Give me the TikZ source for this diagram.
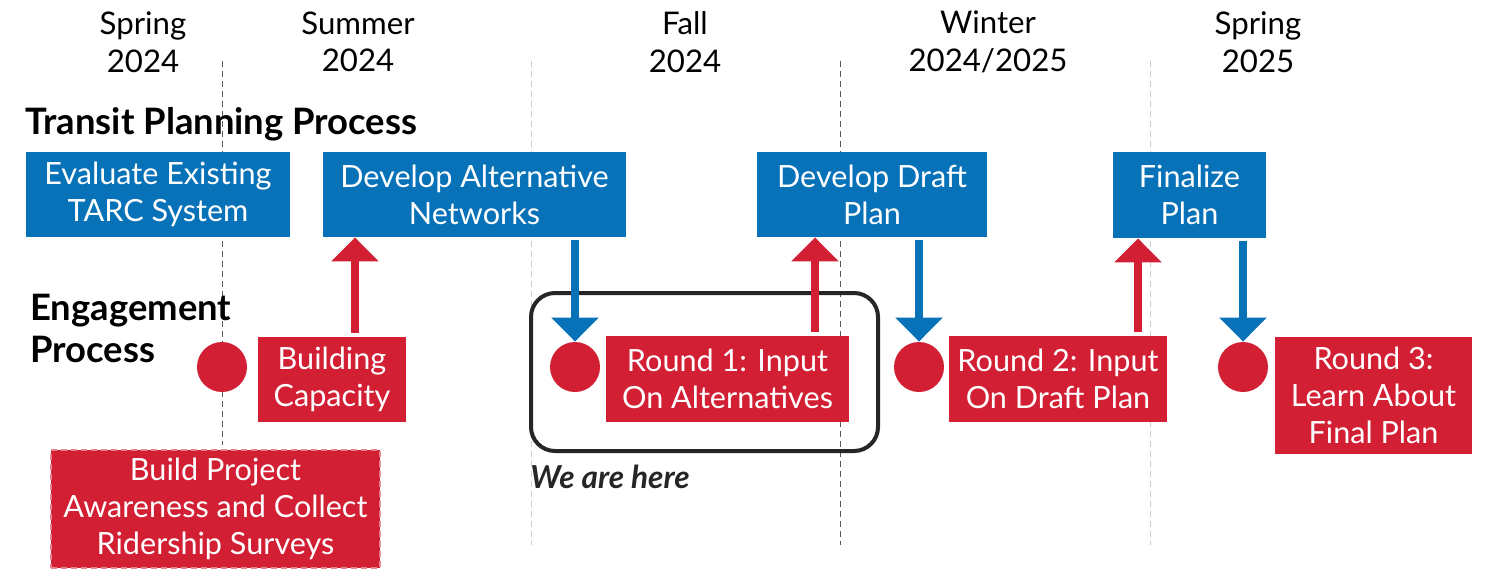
\documentclass[tikz,border=0pt]{standalone}
\usepackage{fontspec}
\setmainfont{Lato}
\usetikzlibrary{arrows.meta}
\definecolor{tarcblue}{RGB}{8,114,185}
\definecolor{tarcred}{RGB}{210,31,52}
\tikzset{
  season/.style={align=center, inner sep=0pt, font=\fontsize{15.6}{18.8}\selectfont},
  heading/.style={align=left, inner sep=0pt, font=\fontsize{18.2}{21}\selectfont\bfseries},
  stage/.style={fill=tarcblue, text=white, align=center, inner sep=0pt,
    font=\fontsize{15.3}{18.5}\selectfont},
  engage/.style={stage, fill=tarcred},
  dot/.style={circle, fill=tarcred, minimum size=25pt, inner sep=0pt},
  feedback/.style={draw=tarcred, line width=4pt, -{Triangle[width=23pt,length=12pt]}},
  handoff/.style={feedback, draw=tarcblue},
  divider/.style={densely dashed, gray!70!black, line width=0.5pt},
  faint divider/.style={divider, gray!40},
}
\begin{document}
\begin{tikzpicture}[x=0.5pt, y=-0.5pt]
  \useasboundingbox (0,0) rectangle (1492,568);
  % season dividers
  \draw[divider] (222,61) -- (222,445);
  \draw[faint divider] (531,61) -- (531,545);
  \draw[divider] (840,61) -- (840,545);
  \draw[faint divider] (1150,61) -- (1150,545);
  % seasons
  \foreach \x/\season [count=\i] in {143/{Spring\\2024}, 358/{Summer\\2024},
      685/{Fall\\2024}, 988/{Winter\\2024/2025}, 1258/{Spring\\2025}}
    \node[season] (season\i) at (\x,42) {\season};
  % row headings
  \node[heading, anchor=west] (transit) at (25,124) {Transit Planning Process};
  \node[heading, anchor=west] (engagement) at (30,328) {Engagement\\Process};
  % we are here
  \draw[line width=2pt, draw=black!85, rounded corners=12pt] (531,293) rectangle (878,451);
  \node[anchor=west, inner sep=0pt, font=\fontsize{15.8}{20}\selectfont\bfseries\itshape,
    text=black!85] (here) at (530,477) {We are here};
  % planning steps
  \node[stage, minimum width=132pt, minimum height=42.5pt] (evaluate) at (158,194.5)
    {Evaluate Existing\\TARC System};
  \node[stage, minimum width=151.5pt, minimum height=42.5pt] (altnet) at (474.5,194.5)
    {Develop Alternative\\Networks};
  \node[stage, minimum width=115pt, minimum height=42.5pt] (draft) at (872,194.5)
    {Develop Draft\\Plan};
  \node[stage, minimum width=76.5pt, minimum height=43pt] (finalize) at (1189.5,195)
    {Finalize\\Plan};
  % engagement steps
  \node[engage, minimum width=74pt, minimum height=42.5pt] (capacity) at (332,379.5)
    {Building\\Capacity};
  \node[engage, minimum width=121.5pt, minimum height=43pt] (round1) at (727.5,379)
    {Round 1: Input\\On Alternatives};
  \node[engage, minimum width=109pt, minimum height=43pt] (round2) at (1058,379)
    {Round 2: Input\\On Draft Plan};
  \node[engage, minimum width=98.5pt, minimum height=58.5pt] (round3) at (1373.5,395.5)
    {Round 3:\\Learn About\\Final Plan};
  \node[engage, minimum width=164.5pt, minimum height=59pt, draw=tarcred!55!white,
    densely dashed, line width=1pt] (awareness) at (215.5,509)
    {Build Project\\Awareness and Collect\\Ridership Surveys};
  % milestones
  \node[dot] (m0) at (222,367) {};
  \node[dot] (m1) at (575,367) {};
  \node[dot] (m2) at (919,367) {};
  \node[dot] (m3) at (1243,367) {};
  % feedback and hand-off arrows
  \draw[feedback] ([xshift=11.5pt, yshift=2pt]capacity.north) -- ([xshift=11.5pt]capacity.north |- altnet.south);
  \draw[feedback] ([xshift=43.75pt, yshift=2pt]round1.north) -- ([xshift=43.75pt]round1.north |- draft.south);
  \draw[feedback] ([xshift=40pt, yshift=2pt]round2.north) -- ([xshift=40pt]round2.north |- finalize.south);
  \draw[handoff] ([yshift=-1.5pt]altnet.south -| m1) -- (m1.north);
  \draw[handoff] ([yshift=-1.5pt]draft.south -| m2) -- (m2.north);
  \draw[handoff] ([yshift=-1.5pt]finalize.south -| m3) -- (m3.north);
\end{tikzpicture}
\end{document}
